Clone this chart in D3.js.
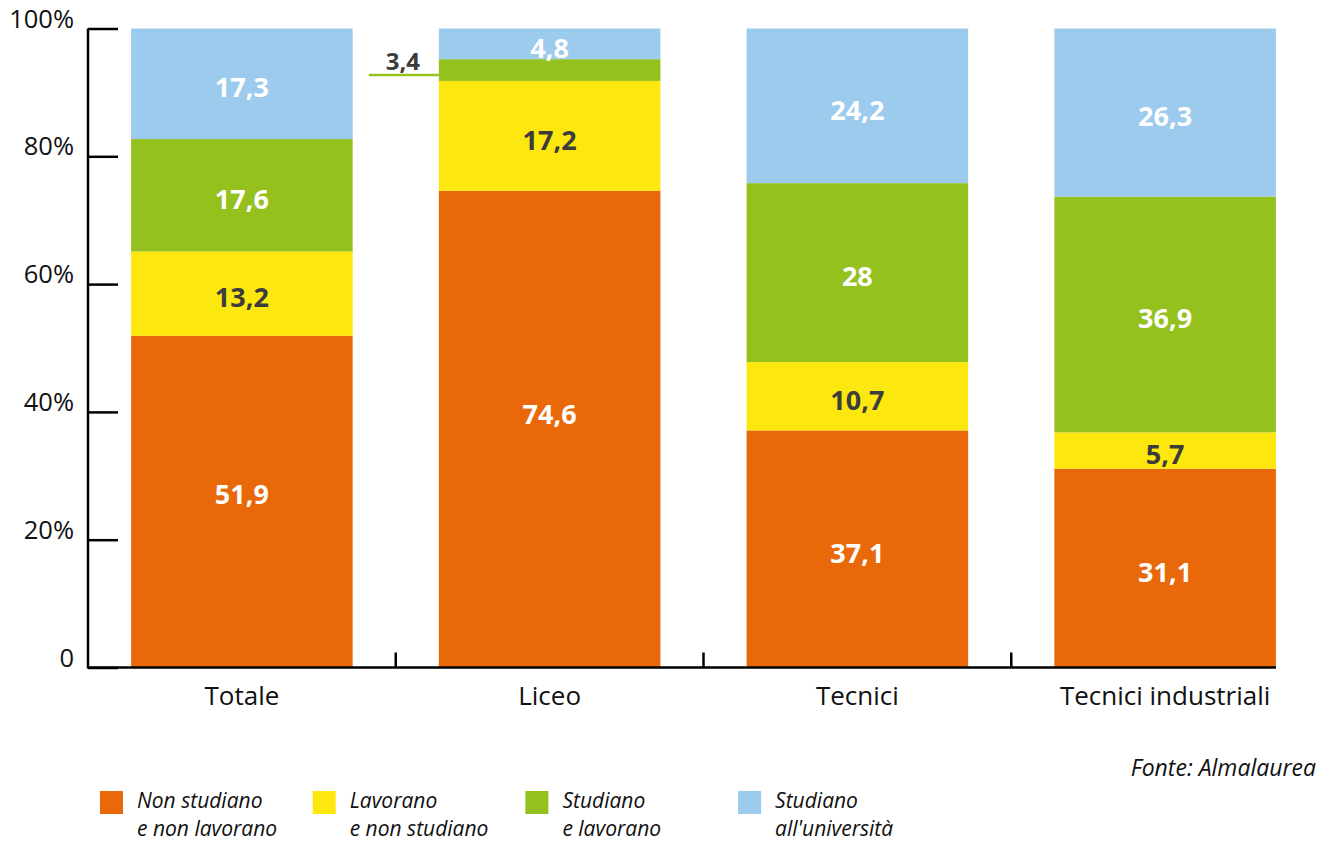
<!DOCTYPE html>
<html><head><meta charset="utf-8">
<script src="https://cdn.jsdelivr.net/npm/d3@7"></script>
<style>
html,body{margin:0;padding:0;background:#fff;}
svg{display:block;font-family:"Open Sans",sans-serif;}
</style></head>
<body>
<svg id="chart" width="1324" height="841"></svg>
<script>
const categories = ["Totale", "Liceo", "Tecnici", "Tecnici industriali"];
const seriesNames = ["Non studiano e non lavorano", "Lavorano e non studiano", "Studiano e lavorano", "Studiano all'università"];
const legendLines = [["Non studiano", "e non lavorano"], ["Lavorano", "e non studiano"], ["Studiano", "e lavorano"], ["Studiano", "all'università"]];
const nonStudiano = [51.9, 74.6, 37.1, 31.1];
const lavorano = [13.2, 17.2, 10.7, 5.7];
const studianoLavorano = [17.6, 3.4, 28, 36.9];
const universita = [17.3, 4.8, 24.2, 26.3];
const yTicks = [0, 20, 40, 60, 80, 100];
const yTickLabels = ["0", "20%", "40%", "60%", "80%", "100%"];
const colors = ["#E9690A", "#FCE80F", "#95C11F", "#9DCBEE"];
const labelColors = ["#ffffff", "#3c3c3c", "#ffffff", "#ffffff"];

const series = [nonStudiano, lavorano, studianoLavorano, universita];
const svg = d3.select("#chart");

const x = d3.scaleBand().domain(categories).range([88, 1319]).paddingInner(0.28).paddingOuter(0.14);
const y = d3.scaleLinear().domain([0, 100]).range([667.5, 28.5]);

const rows = categories.map((c, i) => {
  const r = {cat: c};
  series.forEach((s, k) => r["s" + k] = s[i]);
  return r;
});
const stack = d3.stack().keys(series.map((s, k) => "s" + k));
const stacked = stack(rows);

// bars
stacked.forEach((layer, k) => {
  svg.append("g").selectAll("rect").data(layer).join("rect")
    .attr("x", d => x(d.data.cat))
    .attr("width", x.bandwidth())
    .attr("y", d => y(d[1]))
    .attr("height", d => y(d[0]) - y(d[1]))
    .attr("fill", colors[k]);
});

// value labels
const fmt = v => String(v).replace(".", ",");
stacked.forEach((layer, k) => {
  layer.forEach((d, i) => {
    const v = series[k][i];
    const mid = (y(d[0]) + y(d[1])) / 2;
    if (v < 4) {
      const bx = x(d.data.cat);
      svg.append("line")
        .attr("x1", bx - 70).attr("x2", bx)
        .attr("y1", mid + 5).attr("y2", mid + 5)
        .attr("stroke", colors[k]).attr("stroke-width", 2.5);
      svg.append("text")
        .attr("x", bx - 36).attr("y", mid)
        .attr("text-anchor", "middle")
        .attr("font-size", 24).attr("font-weight", "bold")
        .attr("fill", "#3c3c3c")
        .text(fmt(v));
    } else {
      const shift = (k === 0 && v > 70) ? -15 : (k === 0 && v > 50) ? -7 : 4;
      svg.append("text")
        .attr("x", x(d.data.cat) + x.bandwidth() / 2)
        .attr("y", mid + shift)
        .attr("dy", "0.36em")
        .attr("text-anchor", "middle")
        .attr("font-size", 27).attr("font-weight", "bold")
        .attr("fill", labelColors[k])
        .text(fmt(v));
    }
  });
});

// y axis
const yAxis = d3.axisRight(y).tickValues(yTicks).tickSize(30).tickFormat("");
const gy = svg.append("g").attr("transform", "translate(88,0)").call(yAxis);
gy.select(".domain").attr("stroke", "#000").attr("stroke-width", 2.5).attr("d", `M0,${y(100)}V${y(0)+1}`);
gy.selectAll(".tick line").attr("stroke", "#000").attr("stroke-width", 2.5);
svg.append("g").selectAll("text").data(yTicks).join("text")
  .attr("x", 74).attr("y", d => y(d) - 1)
  .attr("text-anchor", "end")
  .attr("font-size", 25.5).attr("fill", "#111")
  .text((d, i) => yTickLabels[i]);

// x axis baseline and boundary ticks
svg.append("line").attr("x1", 88).attr("x2", x(categories[3]) + x.bandwidth())
  .attr("y1", y(0)).attr("y2", y(0)).attr("stroke", "#000").attr("stroke-width", 2.5);
const step = x.step();
svg.append("g").selectAll("line").data([1, 2, 3]).join("line")
  .attr("x1", i => 88 + i * step).attr("x2", i => 88 + i * step)
  .attr("y1", y(0) - 15).attr("y2", y(0))
  .attr("stroke", "#000").attr("stroke-width", 2.5);
svg.append("g").selectAll("text").data(categories).join("text")
  .attr("x", d => x(d) + x.bandwidth() / 2).attr("y", 705)
  .attr("text-anchor", "middle").attr("font-size", 26).attr("fill", "#111")
  .text(d => d);

// source
svg.append("text").attr("x", 1316).attr("y", 776).attr("text-anchor", "end")
  .attr("font-size", 23).attr("font-style", "italic").attr("fill", "#111")
  .text("Fonte: Almalaurea");

// legend
const lg = svg.append("g").selectAll("g").data(seriesNames).join("g")
  .attr("transform", (d, i) => `translate(${100 + i * 212.7},791)`);
lg.append("rect").attr("width", 23).attr("height", 23).attr("fill", (d, i) => colors[i]);
lg.each(function(d, i) {
  const g = d3.select(this);
  legendLines[i].forEach((ln, j) => g.append("text")
    .attr("font-size", 21).attr("font-style", "italic").attr("fill", "#111")
    .attr("x", 37).attr("y", 17 + j * 28).text(ln));
});
</script>
</body></html>
